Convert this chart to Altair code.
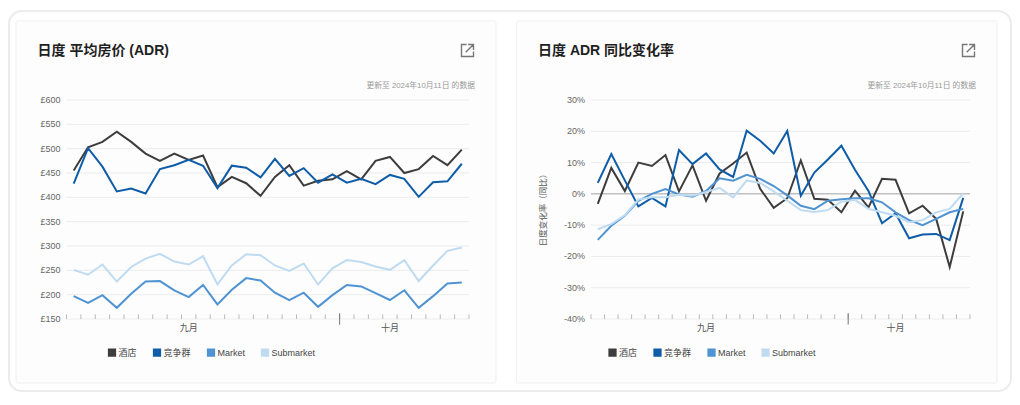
import altair as alt
import pandas as pd

FONT = "Liberation Sans, Noto Sans CJK SC"
series = ["酒店", "竞争群", "Market", "Submarket"]
colors = ["#3d3d3d", "#0f5ca8", "#4f93d2", "#bfdbf2"]

adr_hotel = [455,503,514,535,514,490,475,490,477,486,421,442,429,403,442,466,424,434,437,454,437,475,483,450,458,485,466,498]
adr_comp = [428,501,463,412,418,408,458,466,477,465,419,465,461,441,479,444,460,430,447,430,438,427,446,438,401,431,433,469]
adr_market = [197,183,199,173,202,227,228,209,195,220,180,210,234,229,204,189,204,175,199,220,217,203,189,209,173,197,223,225]
adr_sub = [251,241,262,227,257,274,284,268,262,279,221,260,283,281,260,249,264,221,254,271,267,258,251,271,228,260,290,297]

yoy_hotel = [-3.2,8.3,0.9,10,8.9,12.4,0.8,9.1,-2.2,6.5,9.7,13.2,1.6,-4.5,-1.4,10.7,-1.6,-1.9,-5.9,1,-4.3,4.8,4.5,-6.2,-3.8,-8,-23.4,-5.6]
yoy_comp = [3.5,12.7,4.3,-4,-1.3,-4,14,9.5,12.9,7.8,5.4,20.2,17,12.9,20.1,-0.6,6.8,11,15.4,7.7,0.9,-9.4,-6.2,-14.2,-13,-12.8,-14.8,-1.3]
yoy_market = [-14.7,-10.2,-7,-2.2,0,1.5,-0.2,-0.9,0.9,5,4.2,6.1,4.8,2.5,-0.5,-3.8,-4.9,-2.2,-1.7,-1.4,-1.4,-2.7,-5.9,-8.4,-10,-8,-5.9,-4.8]
yoy_sub = [-11.3,-9.7,-6.8,-1.8,-1.1,-1.1,-0.3,-0.6,0.6,1.9,-1.1,4.3,3.5,0.8,-2.2,-5.2,-5.8,-5.2,-2.5,-1.9,-4.8,-5.9,-7,-9.1,-8.4,-5.9,-4.8,0.2]

months = ["九月", "十月"]
month_pos = [8.5, 22.5]
update_note = "更新至 2024年10月11日 的数据"
ICON = "M-0.15,-1H-1V1H1V0.15 M0.1,-1H1V-0.1 M1,-1L-0.3,0.3"


def one():
    return pd.DataFrame({"a": [0]})


def xenc(field):
    return alt.X(field, scale=alt.Scale(domain=[0, 28], nice=False, zero=False), axis=None)


def panel(title, values, ymin, ymax, ystep, tick_h, major_low, plot_w, card_x, legend_x, suffix, prefix, ytitle, zero, frame):
    long = pd.DataFrame(
        [{"i": i + 0.5, "s": s, "v": v} for s, vals in zip(series, values) for i, v in enumerate(vals)]
    )
    yscale = alt.Scale(domain=[ymin, ymax], nice=False, zero=False)
    yvals = list(range(ymin, ymax + 1, ystep))
    ylabels = [prefix + str(v) + suffix for v in yvals]
    layers = []
    if frame:
        layers.append(
            alt.Chart(one()).mark_rect(cornerRadius=13, fill="#ffffff", stroke="#ececec", strokeWidth=2).encode(
                x=alt.value(-57.5), x2=alt.value(944.5), y=alt.value(-89), y2=alt.value(291)
            )
        )
    layers.append(
        alt.Chart(one()).mark_rect(cornerRadius=2, fill="#fdfdfd", stroke="#efefef", strokeWidth=1).encode(
            x=alt.value(card_x), x2=alt.value(plot_w + 27), y=alt.value(-79), y2=alt.value(283)
        )
    )
    gridframe = pd.DataFrame({"g": yvals, "lab": ylabels})
    layers.append(
        alt.Chart(gridframe).mark_rule(color="#ececec", strokeWidth=1).encode(
            y=alt.Y("g:Q", scale=yscale, axis=None)
        )
    )
    layers.append(
        alt.Chart(gridframe).mark_text(
            font=FONT, fontSize=9, color="#666666", align="right", baseline="middle", dx=-6
        ).encode(
            x=alt.value(0), y=alt.Y("g:Q", scale=yscale, axis=None), text="lab:N"
        )
    )
    if zero:
        layers.append(
            alt.Chart(pd.DataFrame({"z": [0]})).mark_rule(color="#aaaaaa", strokeWidth=1).encode(
                y=alt.Y("z:Q", scale=yscale, axis=None)
            )
        )
    layers.append(
        alt.Chart(long).mark_line(strokeWidth=2).encode(
            x=xenc("i:Q"),
            y=alt.Y("v:Q", scale=yscale, axis=None),
            color=alt.Color(
                "s:N",
                scale=alt.Scale(domain=series, range=colors),
                sort=series,
                legend=alt.Legend(
                    orient="none", legendX=legend_x, legendY=248, direction="horizontal", title=None,
                    symbolType="square", symbolSize=18, symbolStrokeWidth=4, symbolOpacity=1,
                    labelFont=FONT, labelFontSize=9, labelColor="#444444", columnPadding=9,
                    labelOffset=2,
                ),
            ),
        )
    )
    ticks = pd.DataFrame({"t": list(range(29))})
    layers.append(
        alt.Chart(ticks).mark_rule(color="#bbbbbb", strokeWidth=1).encode(
            x=xenc("t:Q"),
            y=alt.datum(ymin, scale=yscale),
            y2=alt.datum(ymin + tick_h),
        )
    )
    layers.append(
        alt.Chart(pd.DataFrame({"t": [19]})).mark_rule(color="#777777", strokeWidth=1).encode(
            x=xenc("t:Q"),
            y=alt.datum(major_low, scale=yscale),
            y2=alt.datum(ymin + tick_h * 1.25),
        )
    )
    layers.append(
        alt.Chart(pd.DataFrame({"p": month_pos, "m": months})).mark_text(
            font=FONT, fontSize=9, color="#555555", dy=8.5, baseline="middle"
        ).encode(
            x=xenc("p:Q"),
            y=alt.datum(ymin, scale=yscale),
            text="m:N",
        )
    )
    layers.append(
        alt.Chart(one()).mark_text(
            text=title, font=FONT, fontSize=14, fontWeight="bold", color="#1f1f1f", align="left", baseline="middle"
        ).encode(x=alt.value(card_x + 21.5), y=alt.value(-49))
    )
    layers.append(
        alt.Chart(one()).mark_text(
            text=update_note, font=FONT, fontSize=7.8, color="#999999", align="right", baseline="middle"
        ).encode(x=alt.value(plot_w + 6), y=alt.value(-14))
    )
    layers.append(
        alt.Chart(one()).mark_point(
            shape=ICON, size=144, filled=False, stroke="#777777", strokeWidth=1.4, opacity=1
        ).encode(x=alt.value(plot_w - 1.5), y=alt.value(-49.5))
    )
    if ytitle:
        layers.append(
            alt.Chart(one()).mark_text(
                text=ytitle, font=FONT, fontSize=8.5, color="#555555", angle=270, baseline="middle", align="center"
            ).encode(x=alt.value(-48.5), y=alt.value(108))
        )
    return alt.layer(*layers).properties(width=plot_w, height=219)


left = panel("日度 平均房价 (ADR)", [adr_hotel, adr_comp, adr_market, adr_sub], 150, 600, 50, 9.5, 138, 402.5, -50.5, 41, "", "£", None, False, True)
right = panel("日度 ADR 同比变化率", [yoy_hotel, yoy_comp, yoy_market, yoy_sub], -40, 30, 10, 1.5, -41.8, 379, -74.5, 17, "%", "", "日度变化率（同比）", True, False)

chart = (
    alt.hconcat(left, right, spacing=121.5, bounds="flush")
    .resolve_scale(color="independent", y="independent", x="independent")
    .properties(autosize="none", padding={"left": 58.5, "top": 92, "right": 945.5, "bottom": 292})
    .configure_view(stroke=None)
)
chart.save("out.html", embed_options={"renderer": "svg", "actions": False})
